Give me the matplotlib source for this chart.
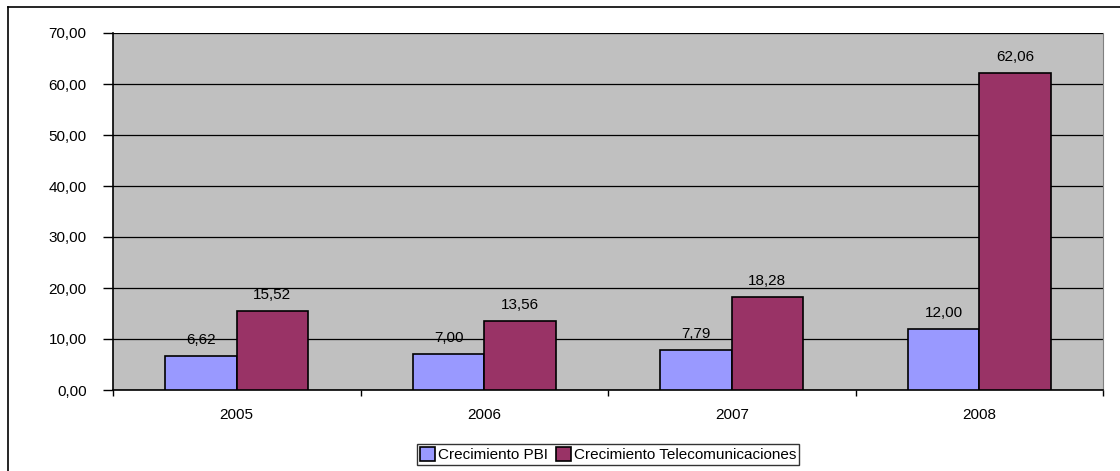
import numpy as np
import matplotlib
matplotlib.use("Agg")
import matplotlib.pyplot as plt
from matplotlib.lines import Line2D

# data
years = ["2005", "2006", "2007", "2008"]
pbi = [6.62, 7.00, 7.79, 12.00]
telecom = [15.52, 13.56, 18.28, 62.06]
series_names = ["Crecimiento PBI", "Crecimiento Telecomunicaciones"]
y_ticks = [0, 10, 20, 30, 40, 50, 60, 70]


def fmt(v):
    return f"{v:.2f}".replace(".", ",")


def plot_chart():
    plt.rcParams["font.family"] = ["Liberation Sans", "DejaVu Sans"]
    fig = plt.figure(figsize=(11.2, 4.71), dpi=100)
    W, H = 1120, 471
    ax = fig.add_axes([113 / W, 1 - 390 / H, (1103 - 113) / W, (390 - 33) / H])
    ax.set_facecolor("#C0C0C0")

    x = np.arange(len(years))
    w = 0.288
    b1 = ax.bar(x - w / 2, pbi, w, color="#9999FF", edgecolor="black",
                linewidth=1.2, label=series_names[0], zorder=3)
    b2 = ax.bar(x + w / 2, telecom, w, color="#993366", edgecolor="black",
                linewidth=1.2, label=series_names[1], zorder=3)

    for bars, vals in ((b1, pbi), (b2, telecom)):
        for rect, v in zip(bars, vals):
            ax.annotate(fmt(v), (rect.get_x() + rect.get_width() / 2, v),
                        xytext=(0, 6.5), textcoords="offset points",
                        ha="center", va="bottom", fontsize=11, zorder=4)

    ax.set_xlim(-0.5, len(years) - 0.5)
    ax.set_ylim(0, 70)
    ax.set_yticks(y_ticks)
    ax.set_yticklabels([fmt(v) for v in y_ticks])
    ax.yaxis.grid(True, color="black", linewidth=0.9, zorder=1)
    ax.set_axisbelow(True)

    ax.set_xticks(x)
    ax.set_xticklabels(years)
    ax.set_xticks(np.arange(-0.5, len(years)), minor=True)
    ax.tick_params(axis="x", which="major", length=0, pad=13, labelsize=11)
    ax.tick_params(axis="x", which="minor", length=4, width=1, direction="out")
    ax.tick_params(axis="y", length=7, width=1, pad=12, labelsize=11)

    ax.spines["top"].set_visible(False)
    ax.spines["right"].set_color("#808080")
    ax.spines["left"].set_linewidth(1.2)
    ax.spines["bottom"].set_linewidth(1.2)

    handles = [b1[0], b2[0]]
    leg = fig.legend(handles, series_names, loc="center",
                     bbox_to_anchor=(608 / W, 1 - 454.5 / H), ncol=2,
                     fontsize=11, frameon=True, fancybox=False, edgecolor="black",
                     handlelength=1.0, handleheight=1.0, handletextpad=0.2,
                     columnspacing=0.5, borderpad=0.2, borderaxespad=0)
    leg.get_frame().set_linewidth(1.0)

    # outer chart border (left and top edges visible)
    fig.add_artist(Line2D([7.5 / W, 7.5 / W], [0, 1 - 6.5 / H], color="black",
                          linewidth=1.2, transform=fig.transFigure))
    fig.add_artist(Line2D([7.5 / W, 1], [1 - 6.5 / H, 1 - 6.5 / H], color="black",
                          linewidth=1.2, transform=fig.transFigure))

    fig.savefig("out.png", dpi=100, facecolor="white")


if __name__ == "__main__":
    plot_chart()
